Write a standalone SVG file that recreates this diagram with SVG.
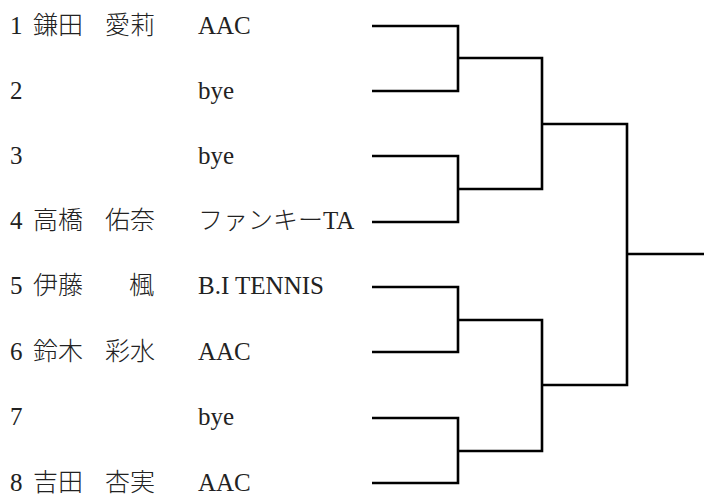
<svg xmlns="http://www.w3.org/2000/svg" width="704" height="495" viewBox="0 0 704 495">
  <style>
    .t { font-family: "Liberation Serif", "Noto Sans CJK JP", serif; font-size: 25px; font-weight: 300; fill: #222; }
    .c { fill: none; stroke: #000; stroke-width: 2.6; stroke-linejoin: miter; stroke-linecap: butt; }
  </style>
  <rect width="704" height="495" fill="#fff"/>
  <g id="entry1"><text class="t" y="34"><tspan x="10">1</tspan><tspan x="33">鎌田</tspan><tspan x="105">愛莉</tspan><tspan x="198">AAC</tspan></text></g>
  <g id="entry2"><text class="t" y="99"><tspan x="10">2</tspan><tspan x="198">bye</tspan></text></g>
  <g id="entry3"><text class="t" y="164"><tspan x="10">3</tspan><tspan x="198">bye</tspan></text></g>
  <g id="entry4"><text class="t" y="229"><tspan x="10">4</tspan><tspan x="33">高橋</tspan><tspan x="105">佑奈</tspan><tspan x="198">ファンキーTA</tspan></text></g>
  <g id="entry5"><text class="t" y="294"><tspan x="10">5</tspan><tspan x="33">伊藤</tspan><tspan x="129">楓</tspan><tspan x="198">B.I TENNIS</tspan></text></g>
  <g id="entry6"><text class="t" y="360"><tspan x="10">6</tspan><tspan x="33">鈴木</tspan><tspan x="105">彩水</tspan><tspan x="198">AAC</tspan></text></g>
  <g id="entry7"><text class="t" y="425"><tspan x="10">7</tspan><tspan x="198">bye</tspan></text></g>
  <g id="entry8"><text class="t" y="491"><tspan x="10">8</tspan><tspan x="33">吉田</tspan><tspan x="105">杏実</tspan><tspan x="198">AAC</tspan></text></g>
  <g id="connectors">
    <path class="c" d="M372 26H458V91H372"/>
    <path class="c" d="M372 156H458V222H372"/>
    <path class="c" d="M372 287H458V352H372"/>
    <path class="c" d="M372 418H458V483H372"/>
    <path class="c" d="M458 58H542V189H458"/>
    <path class="c" d="M458 320H542V451H458"/>
    <path class="c" d="M542 124H627V385H542"/>
    <path class="c" d="M627 254H704"/>
  </g>
</svg>
